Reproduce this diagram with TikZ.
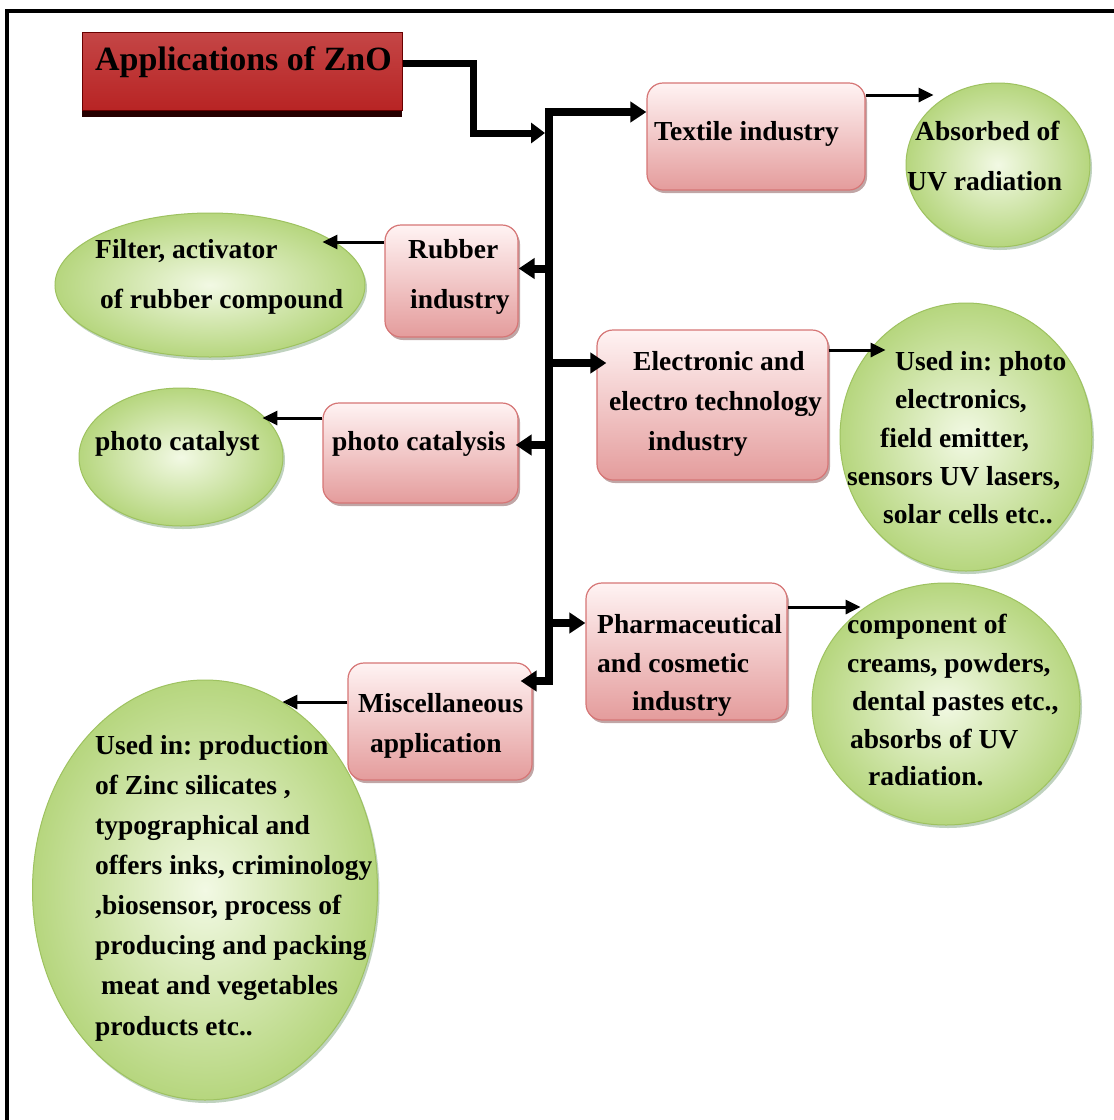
\documentclass[tikz,border=0pt]{standalone}
\usepackage{fontspec}
\setmainfont{Liberation Serif}
\usetikzlibrary{arrows.meta,shapes.geometric,shadows,calc}
\definecolor{boxtop}{RGB}{255,243,243}
\definecolor{boxbot}{RGB}{228,156,156}
\definecolor{boxline}{RGB}{214,118,118}
\definecolor{ellin}{RGB}{242,249,228}
\definecolor{ellout}{RGB}{182,214,126}
\definecolor{elline}{RGB}{158,194,96}
\definecolor{titletop}{RGB}{196,70,70}
\definecolor{titlemid}{RGB}{150,0,0}
\definecolor{titlebot}{RGB}{184,36,36}
\newcommand\txtfont{\fontsize{27.5}{33}\selectfont\bfseries}
\newcommand\ttlfont{\fontsize{34}{40}\selectfont\bfseries}
\frenchspacing
\begin{document}
\begin{tikzpicture}[x=1pt,y=-1pt,
  appbox/.style={rectangle, rounded corners=16pt, draw=boxline, line width=1.2pt,
    top color=boxtop, bottom color=boxbot, inner sep=0pt,
    drop shadow={shadow xshift=2pt, shadow yshift=-3pt, opacity=0.35, fill=black!70!red}},
  useell/.style={ellipse, draw=elline, line width=1pt, inner color=ellin, outer color=ellout,
    inner sep=0pt,
    drop shadow={shadow xshift=2pt, shadow yshift=-3pt, opacity=0.25, fill=black!70!green}},
  titlebox/.style={rectangle, draw=titlemid!70!black, line width=1pt,
    top color=titletop, middle color=titlemid, bottom color=titlebot, inner sep=0pt,
    drop shadow={shadow xshift=0pt, shadow yshift=-7pt, opacity=1, fill=black!85!red}},
  lbl/.style={anchor=base west, inner sep=0pt, font=\txtfont, text=black},
  trunkline/.style={line width=8pt, line cap=rect},
  trunkarrow/.style={line width=8pt, -{Triangle[length=16pt,width=20pt]}},
  titlearrow/.style={line width=7pt, line join=miter, -{Triangle[length=14pt,width=20pt]}},
  thinarrow/.style={line width=3pt, -{Triangle[length=15pt,width=14pt]}}
]
\useasboundingbox (0,0) rectangle (1114,1120);
\fill[white] (0,0) rectangle (1114,1120);
\draw[line width=4pt] (7,1120) -- (7,11) -- (1114,11);

% boxes
\node[titlebox, minimum width=320pt, minimum height=78pt] (title) at (242,71) {};
\node[appbox, minimum width=218pt, minimum height=107pt] (textile) at (756,136.5) {};
\node[appbox, minimum width=133pt, minimum height=112pt] (rubber) at (451.5,281) {};
\node[appbox, minimum width=231pt, minimum height=150pt] (electronic) at (712.5,405) {};
\node[appbox, minimum width=195pt, minimum height=100pt] (photocat) at (420.5,453) {};
\node[appbox, minimum width=201pt, minimum height=137pt] (pharma) at (686.5,651.5) {};
\node[appbox, minimum width=184pt, minimum height=117pt] (misc) at (440,721.5) {};

% ellipses
\node[useell, minimum width=184pt, minimum height=164pt] (absorbed) at (998,165) {};
\node[useell, minimum width=310pt, minimum height=144pt] (filter) at (210,285) {};
\node[useell, minimum width=204pt, minimum height=138pt] (catalyst) at (181,457) {};
\node[useell, minimum width=252pt, minimum height=268pt] (usedphoto) at (966,437) {};
\node[useell, minimum width=268pt, minimum height=242pt] (component) at (946,704) {};
\node[useell, minimum width=345pt, minimum height=420pt] (usedprod) at (205,890) {};

% trunk and connectors
\coordinate (jt) at (549,112);
\coordinate (jb) at (549,681);
\coordinate (jin) at (545,133);
\draw[titlearrow] ([yshift=8pt]title.east) -- ++(71,0) |- (jin);
\draw[trunkline] (jt) -- (jb);
\draw[trunkarrow] (jt) -- (jt -| textile.west);
\coordinate (rb) at ([yshift=12.5pt]rubber.east);
\draw[trunkarrow] (rb -| jt) -- (rb);
\coordinate (el) at ([yshift=42pt]electronic.west);
\draw[trunkarrow] (el -| jt) -- ($(el)+(10,0)$);
\coordinate (pc) at ([yshift=8pt]photocat.east);
\draw[trunkarrow] (pc -| jt) -- ($(pc)+(-3,0)$);
\coordinate (ph) at ([yshift=28.5pt]pharma.west);
\draw[trunkarrow] (ph -| jt) -- (ph);
\draw[trunkarrow] (jb) -- ($(jb -| misc.east)+(-12,0)$);

\draw[thinarrow] ([yshift=41.5pt]textile.east) -- ++(68,0);
\draw[thinarrow] ([yshift=39pt]rubber.west) -- ++(-62,0);
\draw[thinarrow] ([yshift=55pt]electronic.east) -- ++(57,0);
\draw[thinarrow] ([yshift=35pt]photocat.west) -- ++(-60,0);
\draw[thinarrow] ([yshift=44.5pt]pharma.east) -- ++(73,0);
\draw[thinarrow] ([yshift=19.5pt]misc.west) -- ++(-65,0);

% texts
\node[lbl, font=\ttlfont] (t0) at (95,70) {Applications of ZnO};
\node[lbl] (t1) at (654,140) {Textile industry};
\node[lbl] (t2a) at (915,140) {Absorbed of};
\node[lbl] (t2b) at (907,190) {UV radiation};
\node[lbl] (t3a) at (408,258) {Rubber};
\node[lbl] (t3b) at (410,308) {industry};
\node[lbl] (t4a) at (95,258) {Filter, activator};
\node[lbl] (t4b) at (100,308) {of rubber compound};
\node[lbl] (t5a) at (633,370) {Electronic and};
\node[lbl] (t5b) at (609,410) {electro technology};
\node[lbl] (t5c) at (648,450) {industry};
\node[lbl] (t6a) at (895,370) {Used in: photo};
\node[lbl] (t6b) at (895,408) {electronics,};
\node[lbl] (t6c) at (880,447) {field emitter,};
\node[lbl] (t6d) at (847,485) {sensors UV lasers,};
\node[lbl] (t6e) at (883,523) {solar cells etc..};
\node[lbl] (t7) at (332,450) {photo catalysis};
\node[lbl] (t8) at (95,450) {photo catalyst};
\node[lbl] (t9a) at (597,633) {Pharmaceutical};
\node[lbl] (t9b) at (597,672) {and cosmetic};
\node[lbl] (t9c) at (632,710) {industry};
\node[lbl] (t10a) at (847,633) {component of};
\node[lbl] (t10b) at (847,672) {creams, powders,};
\node[lbl] (t10c) at (852,710) {dental pastes etc.,};
\node[lbl] (t10d) at (850,748) {absorbs of UV};
\node[lbl] (t10e) at (868,785) {radiation.};
\node[lbl] (t11a) at (358,712) {Miscellaneous};
\node[lbl] (t11b) at (370,752) {application};
\node[lbl] (t12a) at (95,754) {Used in: production};
\node[lbl] (t12b) at (95,794) {of Zinc silicates ,};
\node[lbl] (t12c) at (95,834) {typographical and};
\node[lbl] (t12d) at (95,874) {offers inks, criminology};
\node[lbl] (t12e) at (95,914) {,biosensor, process of};
\node[lbl] (t12f) at (95,954) {producing and packing};
\node[lbl] (t12g) at (101,994) {meat and vegetables};
\node[lbl] (t12h) at (95,1035) {products etc..};
\end{tikzpicture}
\end{document}
